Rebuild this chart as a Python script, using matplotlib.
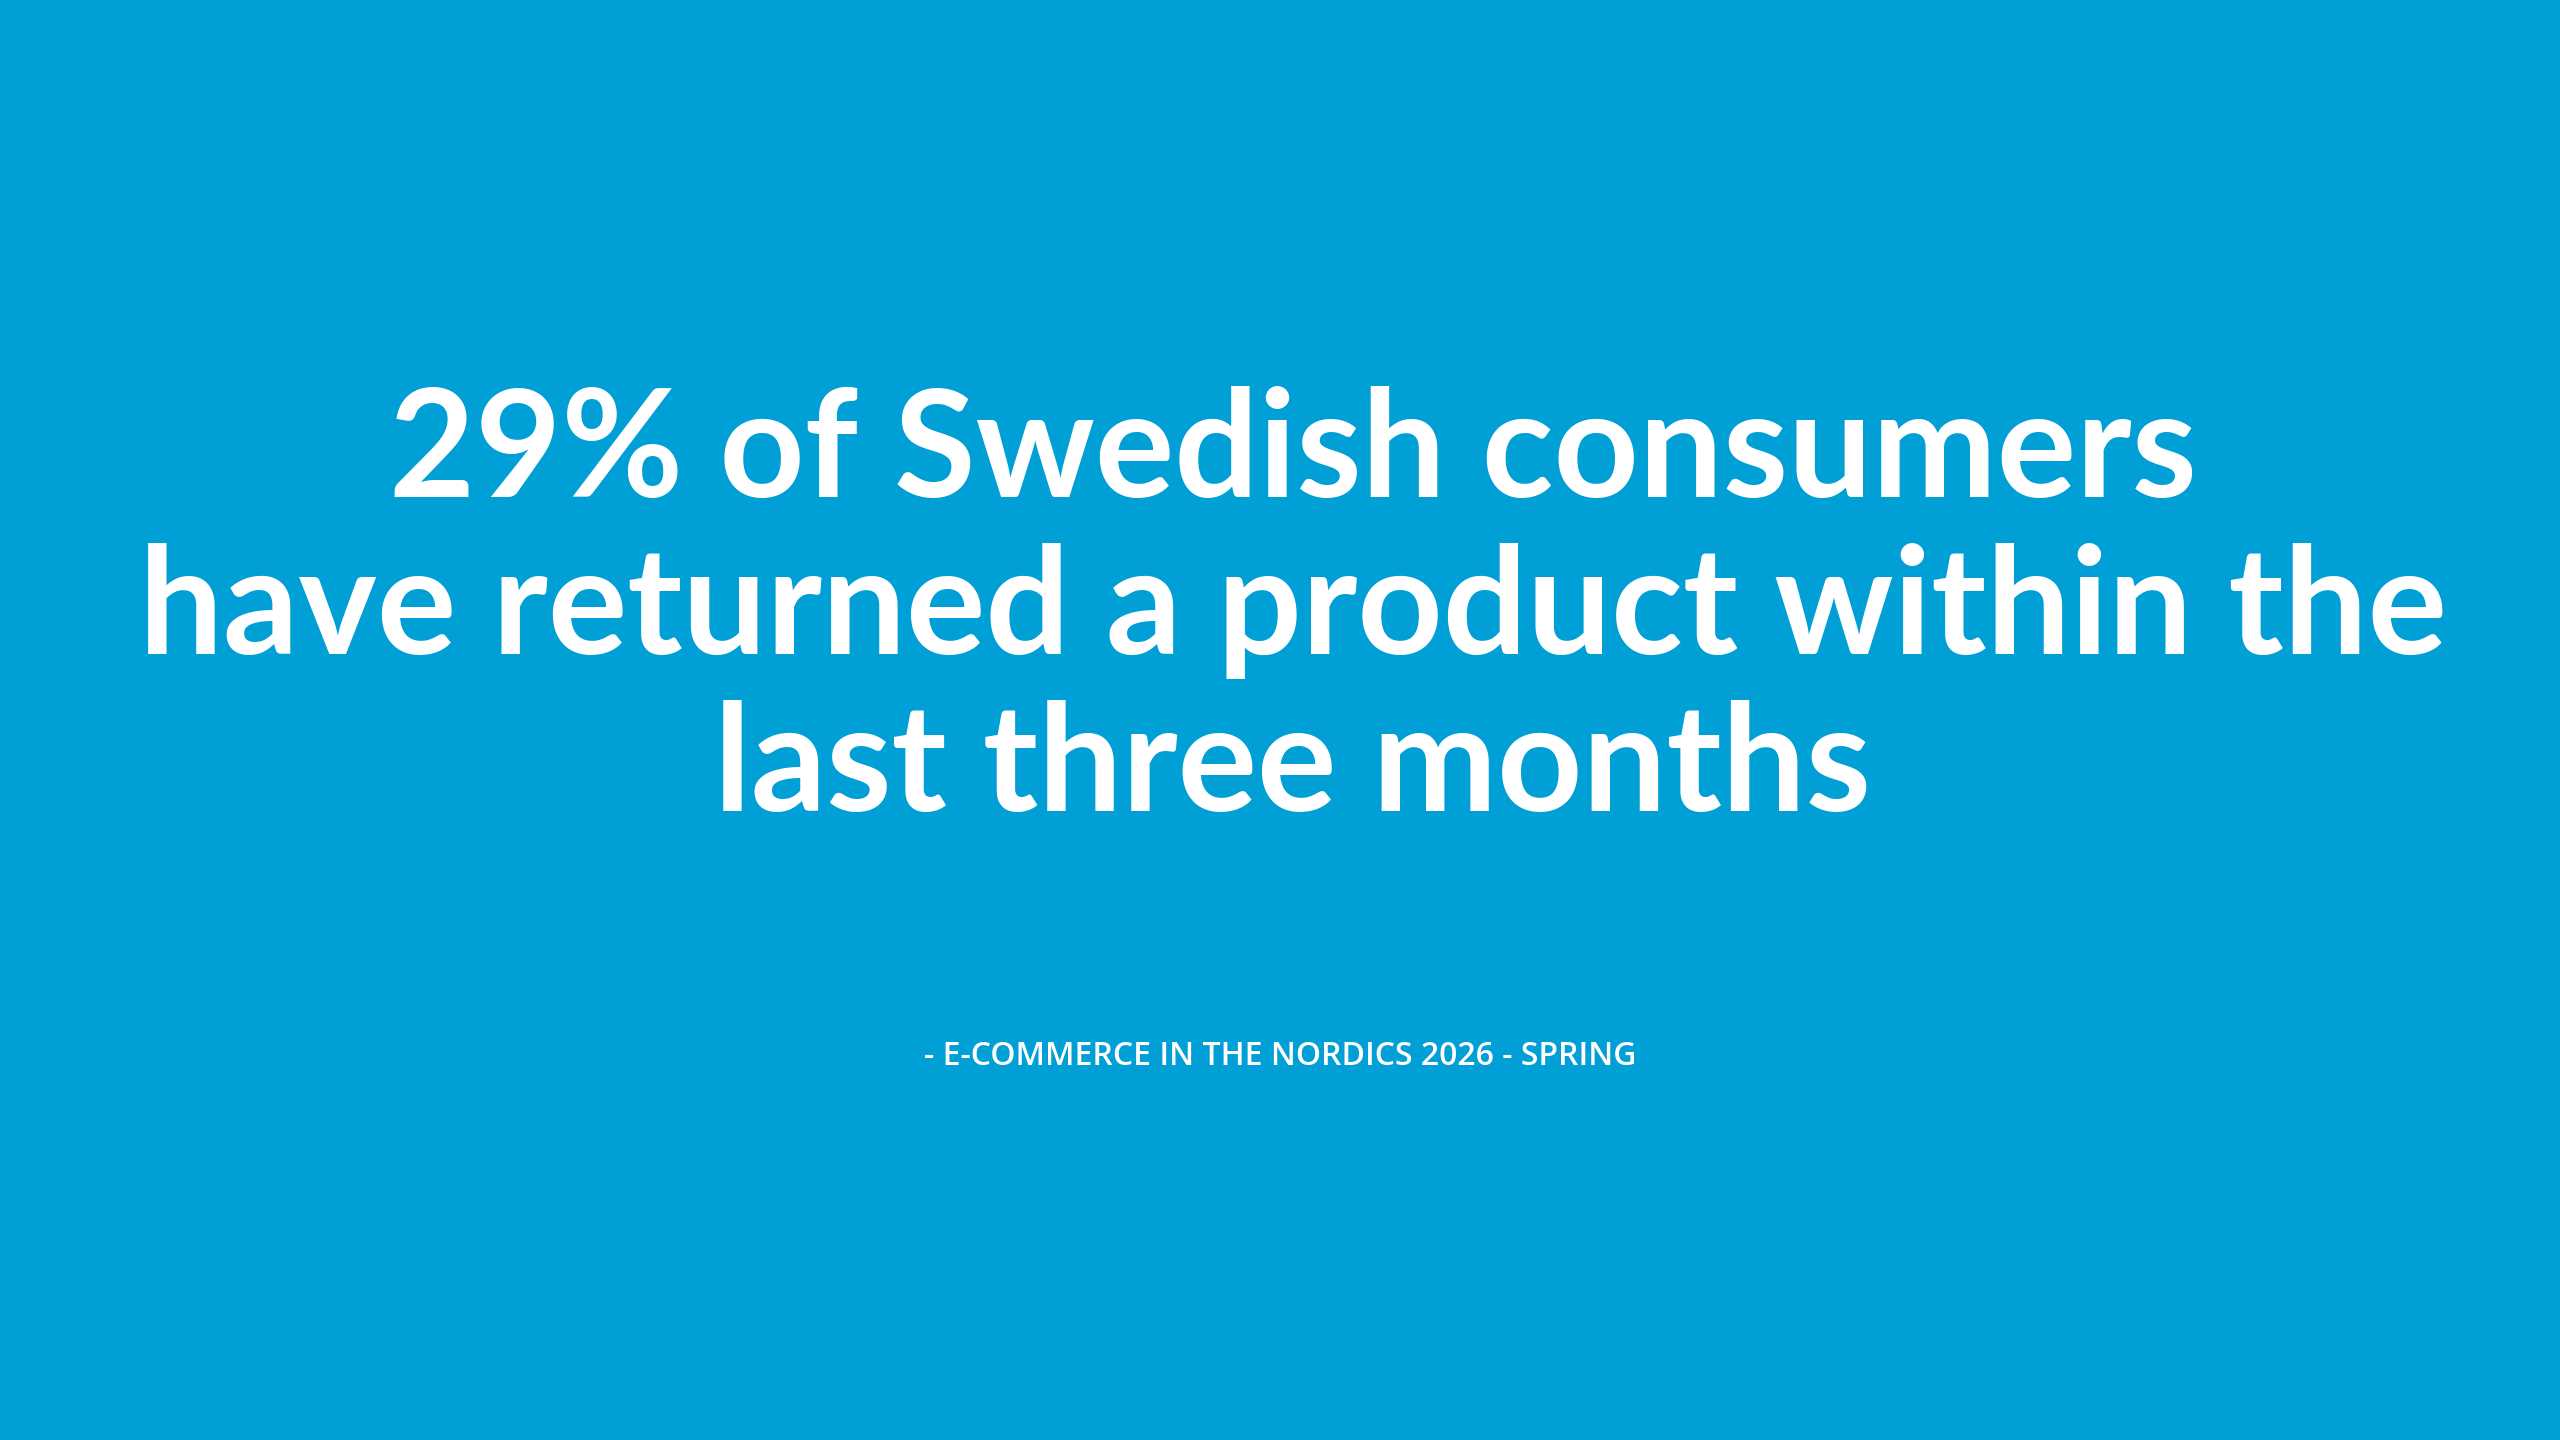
import matplotlib.pyplot as plt

# text content
headline_lines = ["29% of Swedish consumers",
                  "have returned a product within the",
                  "last three months"]
source = "- E-COMMERCE IN THE NORDICS 2026 - SPRING"

bg = "#009FD6"

fig = plt.figure(figsize=(25.6, 14.4), dpi=100)
fig.patch.set_facecolor(bg)

line_y = [0.685, 0.576, 0.467]
for txt, y in zip(headline_lines, line_y):
    fig.text(0.505, y, txt, ha="center", va="center", color="white",
             fontsize=107, fontweight="bold", family="Lato")

fig.text(0.5, 0.266, source, ha="center", va="center", color="white",
         fontsize=23, fontweight="semibold", family="Open Sans")

fig.savefig("out.png", dpi=100, facecolor=bg)
